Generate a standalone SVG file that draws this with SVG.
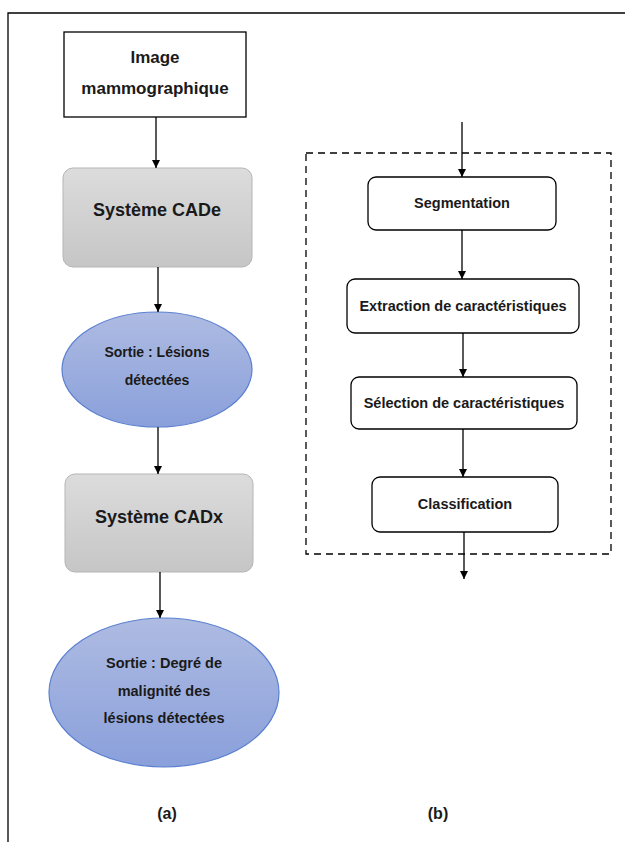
<svg xmlns="http://www.w3.org/2000/svg" width="625" height="842" viewBox="0 0 625 842">
<defs>
<linearGradient id="gray" x1="0" y1="0" x2="0" y2="1">
<stop offset="0" stop-color="#dcdcdc"/>
<stop offset="1" stop-color="#c6c6c6"/>
</linearGradient>
<linearGradient id="blue" x1="0" y1="0" x2="0" y2="1">
<stop offset="0" stop-color="#aebbe2"/>
<stop offset="1" stop-color="#8aa0db"/>
</linearGradient>
<marker id="ah" markerWidth="8" markerHeight="10" refX="8" refY="4" orient="auto" markerUnits="userSpaceOnUse">
<path d="M0,0 L8,4 L0,8 Z" fill="#000"/>
</marker>
</defs>
<style>
text{font-family:"Liberation Sans Narrow","Liberation Sans",Arial,sans-serif;fill:#1a1a1a;text-anchor:middle;font-weight:bold}
.t{font-size:17px}
.b{font-size:18px}
.s{font-size:14.5px}
.s1{font-size:14px}
.r{font-size:14.5px}
.l{font-size:16px}
.gray{fill:url(#gray);stroke:#b5b5b5;stroke-width:1}
.ell{fill:url(#blue);stroke:#5b80d0;stroke-width:1.2}
.wbox{fill:#fff;stroke:#000;stroke-width:1.3}
.conn line{stroke:#000;stroke-width:1.3;marker-end:url(#ah)}
</style>
<rect width="625" height="842" fill="#fff"/>
<path d="M625,13 H8 V842" fill="none" stroke="#000" stroke-width="1.3"/>
<rect x="306" y="153" width="305" height="401" fill="none" stroke="#000" stroke-width="1.3" stroke-dasharray="7,5"/>

<g id="image">
<rect x="64" y="32" width="182" height="85" class="wbox"/>
<text x="155" y="63" class="t">Image</text>
<text x="155" y="94" class="t">mammographique</text>
</g>
<g id="cade">
<rect x="63" y="168" width="189" height="99" rx="10" class="gray"/>
<text x="157" y="216" class="b">Système CADe</text>
</g>
<g id="sortie1">
<ellipse cx="157" cy="369.5" rx="95" ry="57.5" class="ell"/>
<text x="157" y="357" class="s1">Sortie : Lésions</text>
<text x="157" y="385" class="s1">détectées</text>
</g>
<g id="cadx">
<rect x="65" y="474" width="188" height="98" rx="10" class="gray"/>
<text x="159" y="523" class="b">Système CADx</text>
</g>
<g id="sortie2">
<ellipse cx="164" cy="692.5" rx="115" ry="74.5" class="ell"/>
<text x="164" y="668" class="s">Sortie : Degré de</text>
<text x="164" y="696" class="s">malignité des</text>
<text x="164" y="723" class="s">lésions détectées</text>
</g>
<g id="segmentation">
<rect x="368" y="177" width="188" height="53" rx="8" class="wbox"/>
<text x="462" y="208" class="r">Segmentation</text>
</g>
<g id="extraction">
<rect x="347" y="279" width="232" height="54" rx="8" class="wbox"/>
<text x="463" y="311" class="r">Extraction de caractéristiques</text>
</g>
<g id="selection">
<rect x="351" y="377" width="226" height="52" rx="8" class="wbox"/>
<text x="464" y="408" class="r">Sélection de caractéristiques</text>
</g>
<g id="classification">
<rect x="372" y="477" width="186" height="55" rx="8" class="wbox"/>
<text x="465" y="509" class="r">Classification</text>
</g>
<g id="label-a"><text x="167" y="819" class="l">(a)</text></g>
<g id="label-b"><text x="438" y="819" class="l">(b)</text></g>

<g class="conn" id="connectors">
<line x1="156" y1="117" x2="156" y2="168"/>
<line x1="158" y1="267" x2="158" y2="312"/>
<line x1="158" y1="427" x2="158" y2="474"/>
<line x1="160" y1="572" x2="160" y2="618"/>
<line x1="462" y1="122" x2="462" y2="177"/>
<line x1="462" y1="230" x2="462" y2="279"/>
<line x1="463" y1="333" x2="463" y2="377"/>
<line x1="463" y1="429" x2="463" y2="477"/>
<line x1="464" y1="532" x2="464" y2="579"/>
</g>
</svg>
